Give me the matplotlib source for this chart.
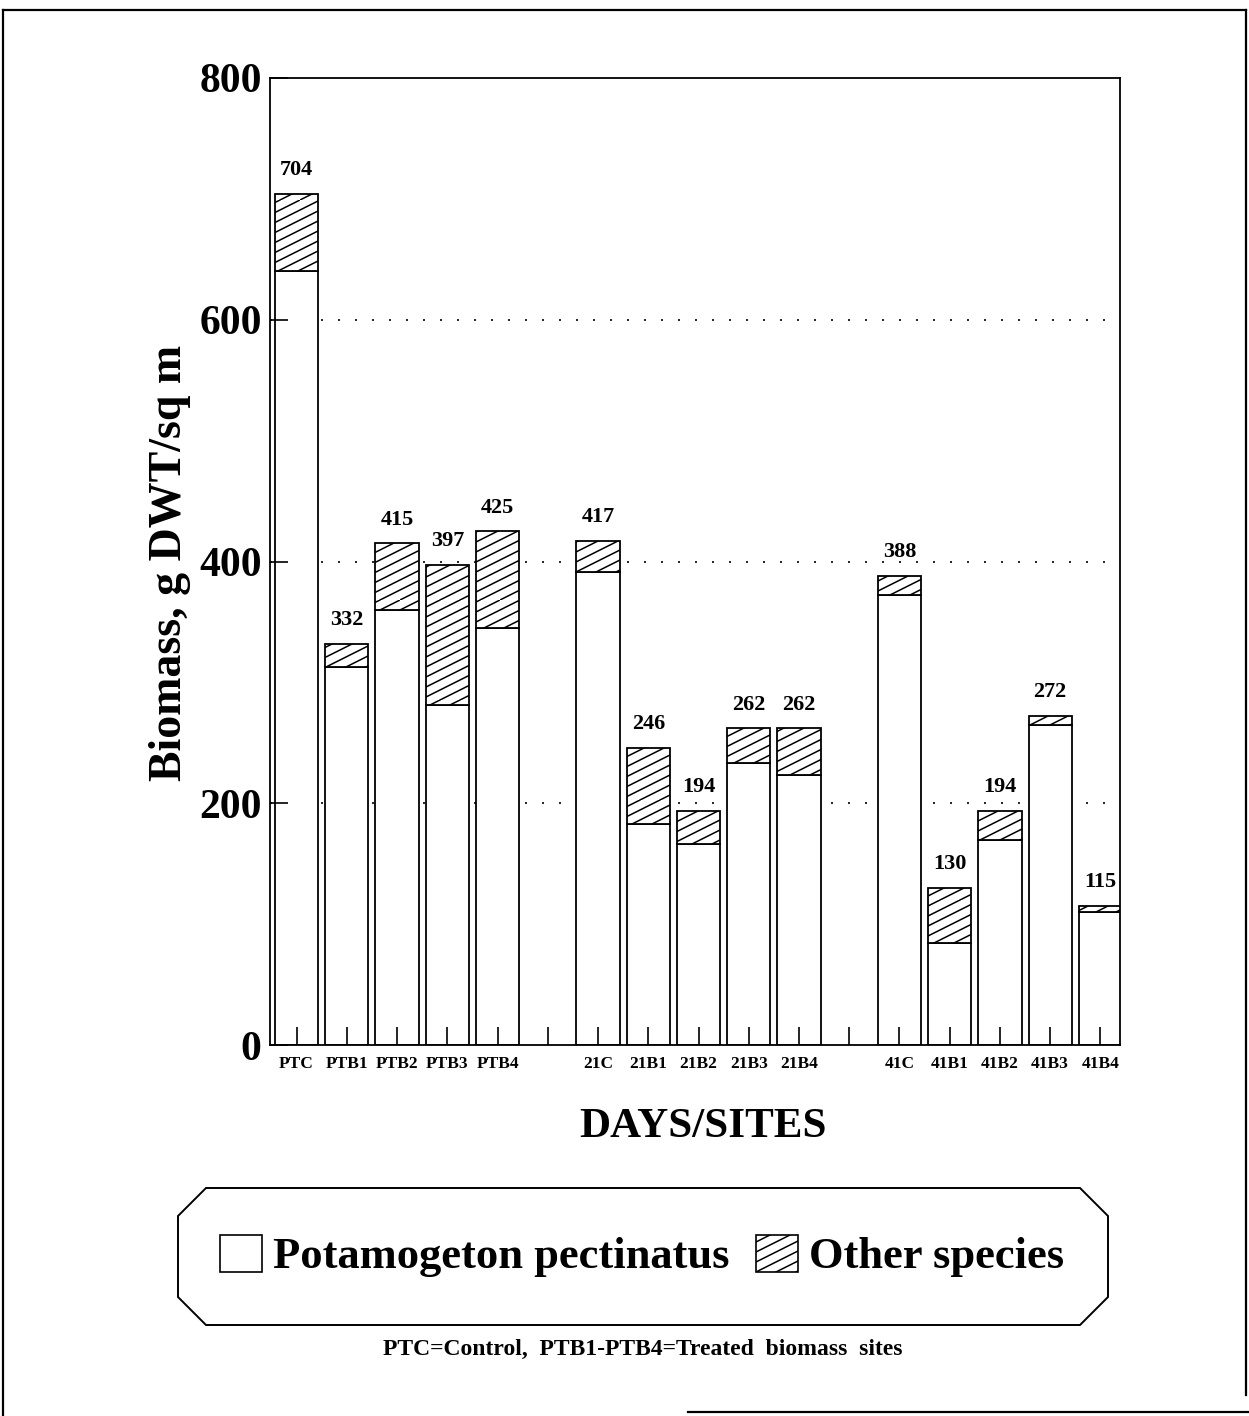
import numpy as np
import matplotlib
matplotlib.use("Agg")
import matplotlib.pyplot as plt
import matplotlib.hatch as mhatch
from matplotlib.patches import Polygon, Patch
from matplotlib.lines import Line2D

# ---------------- data ----------------
group_sites = [
    ["PTC", "PTB1", "PTB2", "PTB3", "PTB4"],
    ["21C", "21B1", "21B2", "21B3", "21B4"],
    ["41C", "41B1", "41B2", "41B3", "41B4"],
]
totals = [704, 332, 415, 397, 425, 417, 246, 194, 262, 262, 388, 130, 194, 272, 115]
potamogeton = [640, 313, 360, 281, 345, 391, 183, 166, 233, 223, 372, 84, 170, 265, 110]
other = [t - p for t, p in zip(totals, potamogeton)]
yticks = [0, 200, 400, 600, 800]

# ---------------- shallow diagonal hatch (style) ----------------
class ShallowHatch(mhatch.HatchPatternBase):
    def __init__(self, hatch, density):
        self.active = hatch.count('/') > 0
        m = 10
        segs = []
        for j in range(-m // 2, m):
            c = j / m
            x0 = max(0.0, -2 * c)
            x1 = min(1.0, 2 * (1 - c))
            if x1 > x0:
                segs.append(((x0, 0.5 * x0 + c), (x1, 0.5 * x1 + c)))
        self.segs = segs
        self.num_vertices = len(segs) * 2 if self.active else 0

    def set_vertices_and_codes(self, vertices, codes):
        pts = np.array([p for s in self.segs for p in s], dtype=float)
        vertices[:] = pts
        codes[0::2] = matplotlib.path.Path.MOVETO
        codes[1::2] = matplotlib.path.Path.LINETO

mhatch._hatch_types = [ShallowHatch if c is mhatch.NorthEastHatch else c
                       for c in mhatch._hatch_types]

plt.rcParams['font.family'] = ['Liberation Serif', 'DejaVu Serif']
plt.rcParams['font.weight'] = 'bold'
plt.rcParams['hatch.linewidth'] = 1.1

W, H = 1249, 1416
fig = plt.figure(figsize=(W / 100, H / 100), dpi=100)

ax_l, ax_r, ax_t, ax_b = 270, 1120, 78, 1045
ax = fig.add_axes([ax_l / W, 1 - ax_b / H, (ax_r - ax_l) / W, (ax_b - ax_t) / H])
ax.set_axisbelow(False)

# positions: one empty slot between groups
xpos, labels, tick_pos, tick_lab = [], [], [], []
slot = 0
for gi, grp in enumerate(group_sites):
    if gi > 0:
        tick_pos.append(slot)
        tick_lab.append("")
        slot += 1
    for s in grp:
        xpos.append(slot)
        labels.append(s)
        tick_pos.append(slot)
        tick_lab.append(s)
        slot += 1

bw = 0.86
ax.bar(xpos, potamogeton, width=bw, color='white', edgecolor='black',
       linewidth=1.3, zorder=2)
ax.bar(xpos, other, bottom=potamogeton, width=bw, color='white',
       edgecolor='black', linewidth=1.3, hatch='/', zorder=2)

for x, t in zip(xpos, totals):
    ax.annotate(str(t), (x, t), xytext=(0, 13.5), textcoords='offset points',
                ha='center', va='baseline', fontsize=16, fontweight='bold')

for g in yticks[1:-1]:
    ax.axhline(g, color='black', lw=1.2, ls=(0, (1.2, 9)), zorder=1)

ax.set_xlim(-0.53, 16.39)
ax.set_ylim(0, 800)
ax.set_yticks(yticks)
ax.set_yticklabels([str(v) for v in yticks], fontsize=30, fontweight='bold')
ax.set_xticks(tick_pos)
ax.set_xticklabels(tick_lab, fontsize=12.5, fontweight='bold')
ax.tick_params(axis='y', direction='in', length=13, width=1.2, pad=6)
ax.tick_params(axis='x', direction='in', length=13, width=1.2, pad=8)
for sp in ax.spines.values():
    sp.set_linewidth(1.3)
    sp.set_zorder(3)

fig.text(703 / W, 1 - 1127 / H, "DAYS/SITES", ha='center', va='center',
         fontsize=31, fontweight='bold')
fig.text(170 / W, 1 - 563 / H, "Biomass, g DWT/sq m", ha='center', va='center',
         rotation=90, fontsize=33, fontweight='bold')

# legend box with chamfered corners
x0, x1, y0, y1, ch = 178, 1108, 1188, 1325, 28
pts = [(x0 + ch, y0), (x1 - ch, y0), (x1, y0 + ch), (x1, y1 - ch),
       (x1 - ch, y1), (x0 + ch, y1), (x0, y1 - ch), (x0, y0 + ch)]
pts = [(px / W, 1 - py / H) for px, py in pts]
fig.patches.append(Polygon(pts, closed=True, fill=False, edgecolor='black',
                           linewidth=1.4, transform=fig.transFigure, figure=fig))

handles = [Patch(facecolor='white', edgecolor='black', linewidth=1.2),
           Patch(facecolor='white', edgecolor='black', linewidth=1.2, hatch='/')]
fig.legend(handles, ["Potamogeton pectinatus", "Other species"], ncol=2,
           loc='center', bbox_to_anchor=(642 / W, 1 - 1256 / H),
           frameon=False, prop={'size': 32, 'weight': 'bold'},
           handlelength=0.95, handleheight=0.9, handletextpad=0.25,
           columnspacing=0.6, borderaxespad=0)

fig.text(643 / W, 1 - 1349 / H, "PTC=Control,  PTB1-PTB4=Treated  biomass  sites",
         ha='center', va='center', fontsize=17, fontweight='bold')

# outer frame
def fline(xa, ya, xb, yb):
    fig.add_artist(Line2D([xa / W, xb / W], [1 - ya / H, 1 - yb / H],
                          transform=fig.transFigure, color='black', lw=1.6))
fline(3, 10, 1246, 10)
fline(3, 10, 3, 1416)
fline(1246, 10, 1246, 1395)
fline(688, 1412, 1249, 1412)

fig.savefig("out.png", dpi=100, facecolor='white')
